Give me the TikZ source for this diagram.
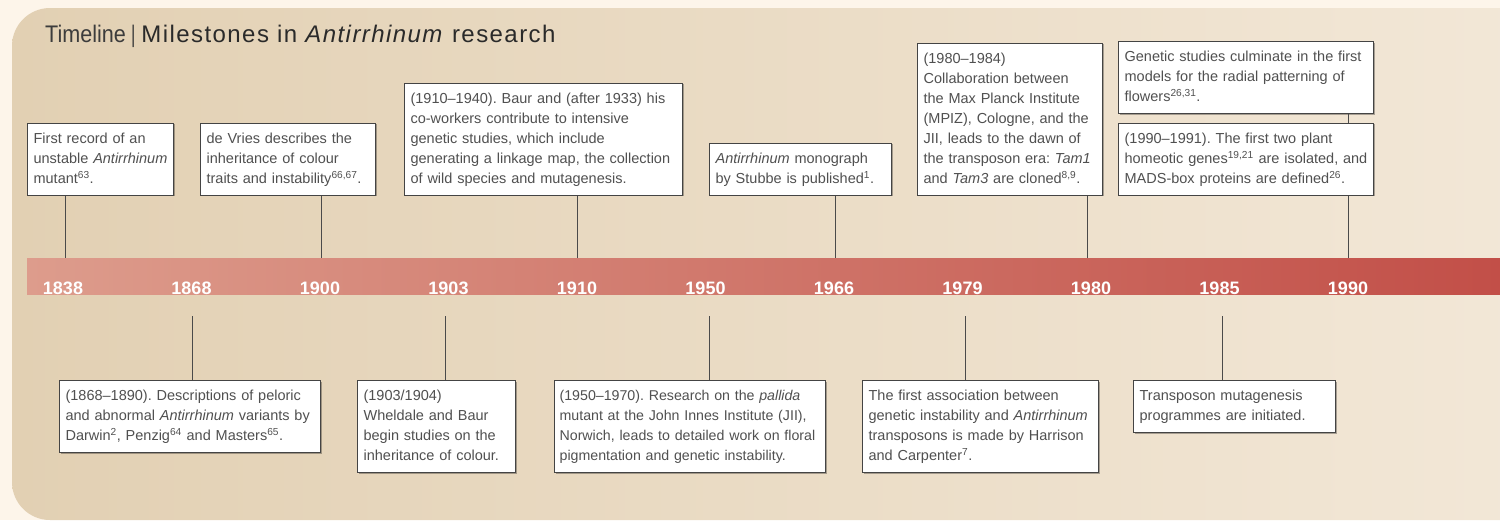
\documentclass[tikz,border=0pt]{standalone}
\usepackage{fontspec}
\usepackage{graphicx}
\setmainfont{Liberation Sans}
\usetikzlibrary{shadows}
\definecolor{outerbg}{HTML}{FDF5EA}
\definecolor{panelL}{HTML}{E2D0B3}
\definecolor{panelR}{HTML}{F3E8D8}
\definecolor{barL}{HTML}{DD9C8C}
\definecolor{barR}{HTML}{C24F48}
\definecolor{boxtext}{HTML}{505050}
\definecolor{boxline}{HTML}{444444}
\definecolor{connline}{HTML}{4A4A4A}
\definecolor{titlecol}{HTML}{2A2A2A}
\definecolor{timelinecol}{HTML}{3C3C3C}
\newcommand{\nohyph}{\hyphenpenalty=10000\relax\exhyphenpenalty=10000\relax\frenchspacing}
\begin{document}
\begin{tikzpicture}[x=1pt,y=-1pt,
  ebox/.style={draw=boxline, line width=1.2pt, fill=white, text=boxtext,
    font=\fontsize{14.5pt}{20pt}\selectfont, align=left,
    inner xsep=6pt, inner ysep=6pt,
    execute at begin node={\nohyph\strut}, execute at end node={\strut},
    drop shadow={shadow xshift=1pt, shadow yshift=-1pt, opacity=0.3, fill=black}},
  conn/.style={draw=connline, line width=1pt},
  yr/.style={text=white, font=\fontsize{18pt}{20pt}\selectfont\bfseries, inner sep=0pt}]
\useasboundingbox (0,0) rectangle (1500,520);
\begin{scope}
\clip (0,0) rectangle (1500,520);
\fill[outerbg] (0,0) rectangle (1500,520);
\shade[left color=panelL, right color=panelR, rounded corners=38pt]
  (1560,8) -- (12,8) -- (12,520) -- (1560,520) -- cycle;
\shade[left color=barL, right color=barR] (27,258) rectangle (1500,294);
\end{scope}

% title
\node[anchor=base west, inner sep=0pt, text=titlecol, font=\fontsize{24pt}{28pt}\selectfont] (title) at (45,42)
  {\textcolor{timelinecol}{\scalebox{0.9}[1]{Timeline}}\hspace{5pt}\textcolor{timelinecol}{\scalebox{0.7}[1]{|}}\hspace{6pt}{\addfontfeature{LetterSpace=6}Milestones in \emph{Antirrhinum} research}};

% years
\node[yr] (y1838) at (63,288.5) {1838};
\node[yr] (y1868) at (191.5,288.5) {1868};
\node[yr] (y1900) at (320,288.5) {1900};
\node[yr] (y1903) at (448.5,288.5) {1903};
\node[yr] (y1910) at (577,288.5) {1910};
\node[yr] (y1950) at (705.5,288.5) {1950};
\node[yr] (y1966) at (834,288.5) {1966};
\node[yr] (y1979) at (962.5,288.5) {1979};
\node[yr] (y1980) at (1091,288.5) {1980};
\node[yr] (y1985) at (1219.5,288.5) {1985};
\node[yr] (y1990) at (1348,288.5) {1990};

% tick coordinates on the bar
\coordinate (t1838) at (65,258);
\coordinate (t1900) at (321,258);
\coordinate (t1910) at (577,258);
\coordinate (t1966) at (835,258);
\coordinate (t1980) at (1087,258);
\coordinate (t1990) at (1348,258);
\coordinate (s1868) at (192,316);
\coordinate (s1903) at (445,316);
\coordinate (s1950) at (709,316);
\coordinate (s1979) at (965,316);
\coordinate (s1985) at (1222,316);

% top boxes
\node[ebox, anchor=south west, text width=134pt] (a1838) at (27,196)
  {First record of an\\unstable \emph{Antirrhinum}\\mutant\textsuperscript{63}.};
\node[ebox, anchor=south west, text width=163pt] (a1900) at (200,196)
  {de Vries describes the\\inheritance of colour\\traits and instability\textsuperscript{66,67}.};
\node[ebox, anchor=south west, text width=266pt] (a1910) at (404,196)
  {(1910–1940). Baur and (after 1933) his\\co-workers contribute to intensive\\genetic studies, which include\\generating a linkage map, the collection\\of wild species and mutagenesis.};
\node[ebox, anchor=south west, text width=170pt] (a1966) at (709,196)
  {\emph{Antirrhinum} monograph\\by Stubbe is published\textsuperscript{1}.};
\node[ebox, anchor=south west, text width=173pt] (a1980) at (917,196)
  {(1980–1984)\\Collaboration between\\the Max Planck Institute\\(MPIZ), Cologne, and the\\JII, leads to the dawn of\\the transposon era: \emph{Tam1}\\and \emph{Tam3} are cloned\textsuperscript{8,9}.};
\node[ebox, anchor=south west, text width=243pt] (a1990b) at (1118,196)
  {(1990–1991). The first two plant\\homeotic genes\textsuperscript{19,21} are isolated, and\\MADS-box proteins are defined\textsuperscript{26}.};
\node[ebox, anchor=north west, text width=243pt] (a1990a) at (1118,41)
  {Genetic studies culminate in the first\\models for the radial patterning of\\flowers\textsuperscript{26,31}.};

% bottom boxes
\node[ebox, anchor=north west, text width=249pt] (b1868) at (59,380)
  {(1868–1890). Descriptions of peloric\\and abnormal \emph{Antirrhinum} variants by\\Darwin\textsuperscript{2}, Penzig\textsuperscript{64} and Masters\textsuperscript{65}.};
\node[ebox, anchor=north west, text width=146pt] (b1903) at (357,380)
  {(1903/1904)\\Wheldale and Baur\\begin studies on the\\inheritance of colour.};
\node[ebox, anchor=north west, text width=261pt, inner xsep=5pt, font=\fontsize{14.2pt}{20pt}\selectfont] (b1950) at (554,380)
  {(1950–1970). Research on the \emph{pallida}\\\mbox{mutant at the John Innes Institute (JII),}\\\mbox{Norwich, leads to detailed work on floral}\\pigmentation and genetic instability.};
\node[ebox, anchor=north west, text width=224pt] (b1979) at (862,380)
  {The first association between\\genetic instability and \emph{Antirrhinum}\\transposons is made by Harrison\\and Carpenter\textsuperscript{7}.};
\node[ebox, anchor=north west, text width=190pt] (b1985) at (1133,380)
  {Transposon mutagenesis\\programmes are initiated.};

% connectors
\draw[conn] (a1838.south -| t1838) -- (t1838);
\draw[conn] (a1900.south -| t1900) -- (t1900);
\draw[conn] (a1910.south -| t1910) -- (t1910);
\draw[conn] (a1966.south -| t1966) -- (t1966);
\draw[conn] (a1980.south -| t1980) -- (t1980);
\draw[conn] (a1990b.south -| t1990) -- (t1990);
\draw[conn] (a1990a.south -| t1990) -- (a1990b.north -| t1990);
\draw[conn] (s1868) -- (b1868.north -| s1868);
\draw[conn] (s1903) -- (b1903.north -| s1903);
\draw[conn] (s1950) -- (b1950.north -| s1950);
\draw[conn] (s1979) -- (b1979.north -| s1979);
\draw[conn] (s1985) -- (b1985.north -| s1985);
\end{tikzpicture}
\end{document}
